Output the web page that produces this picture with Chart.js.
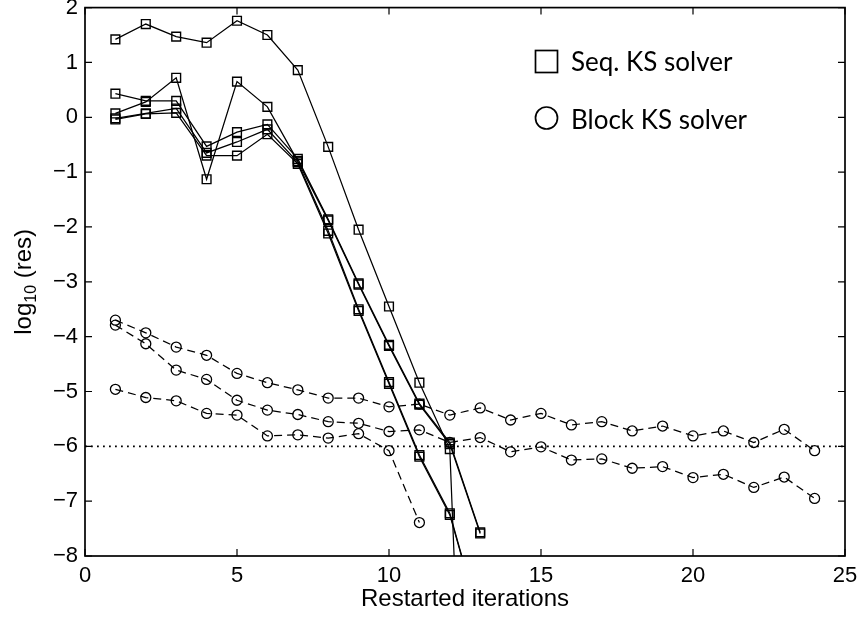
<!DOCTYPE html>
<html><head><meta charset="utf-8">
<script src="https://cdn.jsdelivr.net/npm/chart.js@4/dist/chart.umd.min.js"></script>
<style>html,body{margin:0;padding:0;background:#fff;}canvas{display:block;}</style>
</head><body>
<canvas id="c" width="861" height="620"></canvas>
<script>
// ---- data ----
const iterations = [1,2,3,4,5,6,7,8,9,10,11,12,13,14,15,16,17,18,19,20,21,22,23,24];
// Sequential KS solver (squares)
const seq1 = [1.42,1.70,1.47,1.36,1.76,1.50,0.86,-0.54,-2.05,-3.45,-4.84,-6.05,-19.9];
const seq2 = [0.43,0.30,0.30,-0.53,-0.27,-0.13,-0.76,-1.86,-3.03,-4.15,-5.22,-5.93,-7.57];
const seq3 = [0.07,0.28,0.72,-1.13,0.65,0.19,-0.80,-1.88,-3.05,-4.17,-5.24,-5.96,-7.59];
const seq4 = [-0.02,0.07,0.16,-0.65,-0.45,-0.22,-0.82,-2.07,-3.50,-4.83,-6.16,-7.22,-9.2];
const seq5 = [-0.04,0.06,0.08,-0.70,-0.70,-0.31,-0.85,-2.12,-3.53,-4.86,-6.19,-7.25,-9.2];
// Block KS solver (circles)
const block1 = [-3.70,-3.93,-4.19,-4.34,-4.67,-4.84,-4.97,-5.12,-5.12,-5.28,-5.23,-5.43,-5.30,-5.52,-5.40,-5.61,-5.55,-5.72,-5.63,-5.81,-5.72,-5.93,-5.69,-6.08];
const block2 = [-3.79,-4.13,-4.61,-4.78,-5.16,-5.34,-5.42,-5.55,-5.58,-5.73,-5.70,-5.93,-5.84,-6.10,-6.01,-6.25,-6.23,-6.40,-6.37,-6.57,-6.51,-6.75,-6.56,-6.95];
const block3 = [-4.96,-5.11,-5.17,-5.40,-5.43,-5.81,-5.79,-5.85,-5.77,-6.08,-7.39];
const tolerance = -6;
const xRange = [0,25];
const xTicks = [0,5,10,15,20,25];
const yTicks = [-8,-7,-6,-5,-4,-3,-2,-1,0,1,2];
const legendLabels = ['Seq. KS solver','Block KS solver'];
const xTitle = 'Restarted iterations';
const yTitleParts = ['log','10',' (res)'];

function pts(vals){ return vals.map((v,i)=>({x:iterations[i], y:v})); }

const seqStyle = {borderColor:'#000', borderWidth:1.25, pointStyle:'rect', pointRadius:6.2,
  pointBorderColor:'#000', pointBackgroundColor:'rgba(0,0,0,0)', pointBorderWidth:1.4, fill:false, tension:0};
const blockStyle = {borderColor:'#000', borderWidth:1.25, borderDash:[8,5], pointStyle:'circle', pointRadius:5,
  pointBorderColor:'#000', pointBackgroundColor:'rgba(0,0,0,0)', pointBorderWidth:1.3, fill:false, tension:0};

const datasets = [
  Object.assign({data:pts(seq1)}, seqStyle),
  Object.assign({data:pts(seq2)}, seqStyle),
  Object.assign({data:pts(seq3)}, seqStyle),
  Object.assign({data:pts(seq4)}, seqStyle),
  Object.assign({data:pts(seq5)}, seqStyle),
  Object.assign({data:pts(block1)}, blockStyle),
  Object.assign({data:pts(block2)}, blockStyle),
  Object.assign({data:pts(block3)}, blockStyle),
  {data:[{x:xRange[0],y:tolerance},{x:xRange[1],y:tolerance}], borderColor:'#000', borderWidth:1.8,
   borderDash:[1.8,4.2], pointRadius:0, fill:false}
];

const TICKFONT = {family:'"Liberation Sans", Arial, sans-serif', size:22};

const framePlugin = {
  id:'frame',
  afterDatasetsDraw(chart){
    const {ctx, chartArea:{left,right,top,bottom}, scales:{x,y}} = chart;
    ctx.save();
    ctx.setLineDash([]);
    ctx.strokeStyle = '#000';
    ctx.lineWidth = 1.2;
    ctx.beginPath();
    x.ticks.forEach(t=>{
      const px = x.getPixelForValue(t.value);
      ctx.moveTo(px,bottom); ctx.lineTo(px,bottom-7);
      ctx.moveTo(px,top); ctx.lineTo(px,top+7);
    });
    y.ticks.forEach(t=>{
      const py = y.getPixelForValue(t.value);
      ctx.moveTo(left,py); ctx.lineTo(left+7,py);
      ctx.moveTo(right,py); ctx.lineTo(right-7,py);
    });
    ctx.stroke();
    ctx.lineWidth = 1.7;
    ctx.strokeRect(left,top,right-left,bottom-top);
    ctx.restore();
  },
  afterDraw(chart){
    const {ctx, chartArea:{left,right,top,bottom}} = chart;
    ctx.save();
    ctx.fillStyle = '#000';
    // x title
    ctx.font = '24px "Liberation Sans", Arial, sans-serif';
    ctx.textAlign = 'center';
    ctx.textBaseline = 'alphabetic';
    ctx.fillText(xTitle, (left+right)/2, 606);
    // y title with subscript
    const mainFont = '24px "Liberation Sans", Arial, sans-serif';
    const subFont = '16px "Liberation Sans", Arial, sans-serif';
    ctx.font = mainFont; const w0 = ctx.measureText(yTitleParts[0]).width;
    const w2 = ctx.measureText(yTitleParts[2]).width;
    ctx.font = subFont; const w1 = ctx.measureText(yTitleParts[1]).width;
    const total = w0+w1+w2;
    ctx.translate(31, (top+bottom)/2);
    ctx.rotate(-Math.PI/2);
    ctx.textAlign = 'left';
    let cx = -total/2;
    ctx.font = mainFont; ctx.fillText(yTitleParts[0], cx, 0); cx += w0;
    ctx.font = subFont; ctx.fillText(yTitleParts[1], cx, 5); cx += w1;
    ctx.font = mainFont; ctx.fillText(yTitleParts[2], cx, 0);
    ctx.restore();
    // legend
    ctx.save();
    ctx.strokeStyle = '#000'; ctx.lineWidth = 1.7; ctx.setLineDash([]);
    ctx.strokeRect(535.5, 50.5, 22, 22);
    ctx.beginPath(); ctx.arc(546.5, 118, 11, 0, Math.PI*2); ctx.stroke();
    ctx.fillStyle = '#000';
    ctx.font = '26px Lato, "Open Sans", sans-serif';
    ctx.textAlign = 'left'; ctx.textBaseline = 'alphabetic';
    ctx.fillText(legendLabels[0], 571, 71);
    ctx.fillText(legendLabels[1], 571, 129);
    ctx.restore();
  }
};

new Chart(document.getElementById('c'), {
  type:'line',
  data:{datasets},
  options:{
    responsive:false, animation:false, devicePixelRatio:1,
    layout:{padding:{top:6,right:16,left:0,bottom:0}},
    plugins:{legend:{display:false}, tooltip:{enabled:false}},
    scales:{
      x:{type:'linear', min:xRange[0], max:xRange[1],
        grid:{display:false, drawTicks:false}, border:{display:false},
        afterBuildTicks:s=>{s.ticks = xTicks.map(v=>({value:v}));},
        ticks:{color:'#000', font:TICKFONT, padding:7, maxRotation:0, autoSkip:false},
        afterFit:s=>{s.height = 64; s.paddingLeft=0; s.paddingRight=0;}
      },
      y:{type:'linear', min:yTicks[0], max:yTicks[yTicks.length-1],
        grid:{display:false, drawTicks:false}, border:{display:false},
        afterBuildTicks:s=>{s.ticks = yTicks.map(v=>({value:v}));},
        ticks:{color:'#000', font:TICKFONT, padding:7, autoSkip:false,
          callback:v=> v<0 ? '\u2212'+Math.abs(v) : String(v)},
        afterFit:s=>{s.width = 85; s.paddingTop=0; s.paddingBottom=0;}
      }
    }
  },
  plugins:[framePlugin]
});
</script>
</body></html>
